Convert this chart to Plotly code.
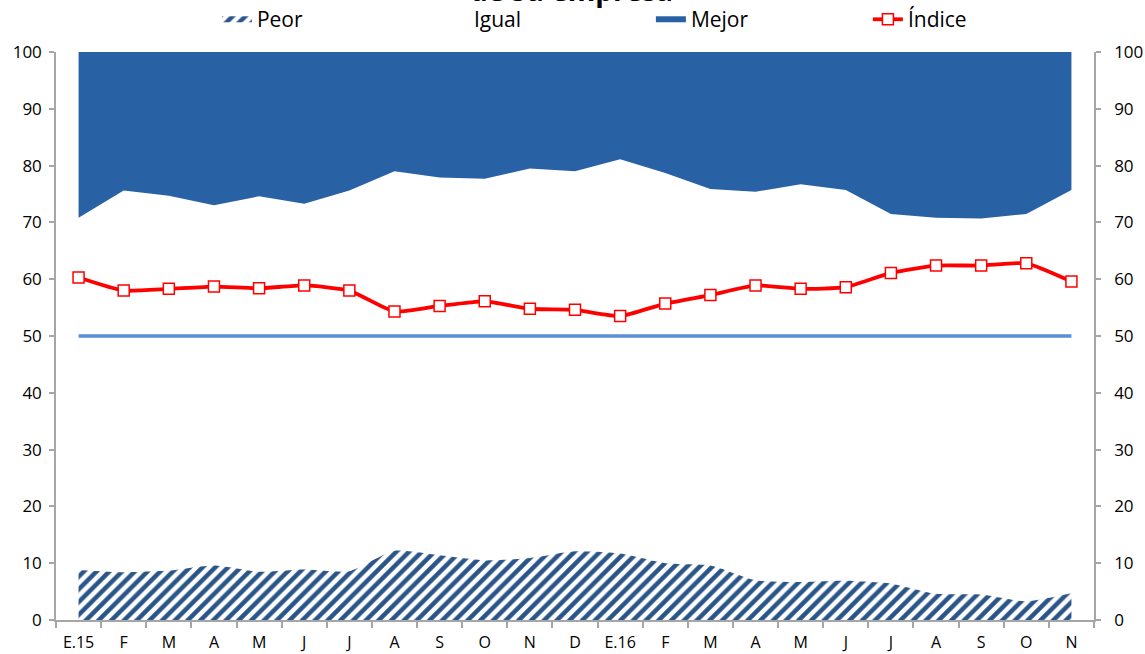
import plotly.graph_objects as go

months = ["E.15", "F", "M", "A", "M", "J", "J", "A", "S", "O", "N", "D",
          "E.16", "F", "M", "A", "M", "J", "J", "A", "S", "O", "N"]
peor = [8.8, 8.4, 8.7, 9.6, 8.5, 8.9, 8.6, 12.2, 11.4, 10.5, 10.9, 12.1,
        11.7, 10.0, 9.6, 7.0, 6.7, 6.9, 6.4, 4.6, 4.5, 3.3, 4.7]
mejor = [29.2, 24.4, 25.3, 27.0, 25.4, 26.7, 24.4, 21.0, 22.1, 22.3, 20.5, 21.0,
         18.9, 21.3, 24.1, 24.6, 23.3, 24.3, 28.5, 29.2, 29.3, 28.5, 24.3]
igual = [round(100 - p - m, 1) for p, m in zip(peor, mejor)]
indice = [60.3, 58.0, 58.3, 58.7, 58.4, 58.9, 58.0, 54.3, 55.3, 56.1, 54.8, 54.6,
          53.5, 55.7, 57.2, 58.9, 58.3, 58.6, 61.1, 62.4, 62.4, 62.8, 59.6]
referencia = [50] * len(months)
yticks = [0, 10, 20, 30, 40, 50, 60, 70, 80, 90, 100]

x = list(range(len(months)))
FONT = "Open Sans"
AXIS = "#A6A6A6"

fig = go.Figure()
fig.add_trace(go.Scatter(
    x=x, y=peor, name="Peor", stackgroup="a", mode="none",
    line=dict(shape="spline", smoothing=0.6),
    fillcolor="white",
    fillpattern=dict(shape="/", fgcolor="#2A5588", bgcolor="white",
                     fgopacity=1, size=9, solidity=0.5),
))
fig.add_trace(go.Scatter(
    x=x, y=igual, name="Igual", stackgroup="a", mode="none",
    fillcolor="rgba(255,255,255,0)",
))
fig.add_trace(go.Scatter(
    x=x, y=mejor, name="Mejor", stackgroup="a", mode="none",
    fillcolor="#2861A4",
))
fig.add_trace(go.Scatter(
    x=x, y=referencia, mode="lines", showlegend=False,
    line=dict(color="#5B8FD6", width=3.5), yaxis="y2",
))
fig.add_trace(go.Scatter(
    x=x, y=indice, name="Índice", mode="lines+markers",
    line=dict(color="#FF0000", width=3.8, shape="spline", smoothing=0.5),
    marker=dict(symbol="square", size=11, color="white",
                line=dict(color="#FF0000", width=1.5)),
))

fig.update_layout(
    width=1145, height=654,
    margin=dict(l=56, r=51, t=52, b=34, autoexpand=False),
    paper_bgcolor="white", plot_bgcolor="white",
    font=dict(family=FONT, size=17, color="#000000"),
    showlegend=True,
    legend=dict(orientation="h", x=0.155, xanchor="left", y=1.057, yanchor="middle",
                entrywidth=172, entrywidthmode="pixels",
                font=dict(family=FONT, size=21, color="#000000"),
                bgcolor="rgba(0,0,0,0)", traceorder="normal"),
    xaxis=dict(
        range=[-0.5, 22.5], tickmode="array", tickvals=x, ticktext=months,
        showgrid=False, zeroline=False, showline=True, linecolor=AXIS, linewidth=1.5,
        ticks="", tickfont=dict(size=16), automargin=False, ticklabelstandoff=7,
        minor=dict(tickmode="linear", tick0=-0.5, dtick=1, ticks="outside",
                   ticklen=6, tickcolor=AXIS, tickwidth=1.5, showgrid=False),
    ),
    yaxis=dict(
        range=[0, 100], tickmode="array", tickvals=yticks,
        showgrid=False, zeroline=False, showline=True, linecolor=AXIS, linewidth=1.5,
        ticks="outside", ticklen=5, tickcolor=AXIS, tickwidth=1.5,
        tickfont=dict(size=17), automargin=False, ticklabelstandoff=4,
    ),
    yaxis2=dict(
        range=[0, 100], tickmode="array", tickvals=yticks, overlaying="y", side="right",
        showgrid=False, zeroline=False, showline=True, linecolor=AXIS, linewidth=1.5,
        ticks="outside", ticklen=5, tickcolor=AXIS, tickwidth=1.5,
        tickfont=dict(size=17), automargin=False, ticklabelstandoff=10,
    ),
    annotations=[dict(
        text="<b>de su empresa</b>", xref="paper", yref="paper",
        x=0.497, y=1.073, xanchor="center", yanchor="bottom", showarrow=False,
        font=dict(family=FONT, size=28, color="#000000"),
    )],
)

fig.write_html(
    "out.html",
    config={"displayModeBar": False},
    post_script="document.body.style.margin='0';document.body.style.overflow='hidden';",
)
